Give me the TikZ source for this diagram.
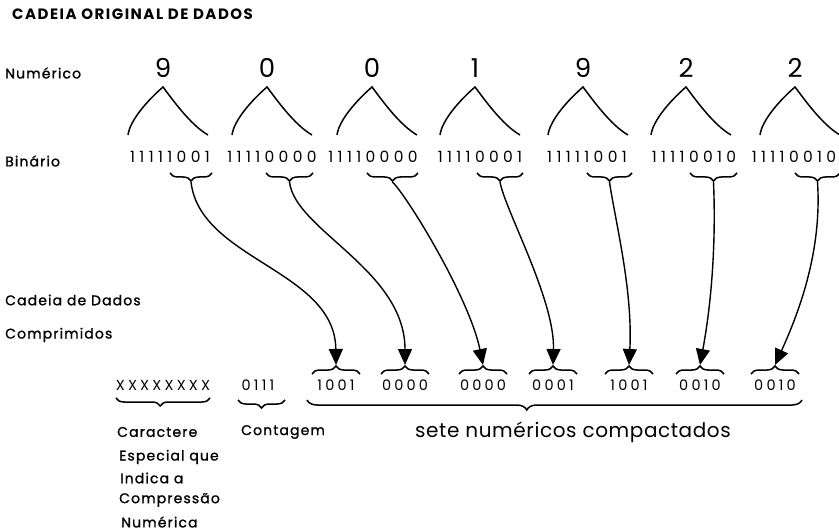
\documentclass[tikz,border=0pt]{standalone}
\usepackage{fontspec}
\setmainfont{Poppins}
\usetikzlibrary{arrows.meta,decorations.pathreplacing}

\begin{document}
\begin{tikzpicture}[x=1pt,y=1pt,
  lbl/.style={anchor=west,inner sep=0pt,font=\fontsize{14}{14}\selectfont\addfontfeature{LetterSpace=8,FakeBold=1.2}},
  ttl/.style={anchor=west,inner sep=0pt,font=\fontsize{15}{15}\selectfont\bfseries\addfontfeature{LetterSpace=10}},
  digit/.style={inner sep=0pt,font=\fontsize{26}{26}\selectfont},
  bits/.style={inner sep=0pt,font=\fontsize{15.5}{16}\selectfont\addfontfeature{LetterSpace=28}},
  code/.style={inner sep=0pt,font=\fontsize{14.5}{15}\selectfont\addfontfeature{LetterSpace=22}},
  big/.style={inner sep=0pt,font=\fontsize{20}{20}\selectfont\addfontfeature{LetterSpace=3}},
  tent/.style={line width=1.5pt},
  brc/.style={line width=1.5pt,decorate,decoration={brace,amplitude=#1}},
  brc/.default=8pt,
  link/.style={line width=1.4pt,-{Triangle[width=14pt,length=16pt]}},
]
\useasboundingbox (0,0) rectangle (839,-532);

% headings and row labels
\node[ttl] (title) at (12,-14) {CADEIA ORIGINAL DE DADOS};
\node[lbl] (lnum) at (5,-73) {Numérico};
\node[lbl] (lbin) at (5,-161) {Binário};
\node[lbl] (lcad) at (5,-300) {Cadeia de Dados};
\node[lbl] (lcomp) at (5,-335) {Comprimidos};

% decimal digits, their tents and the 8-bit codes
\foreach \i/\dx/\bx/\d/\b in {1/163/170/9/11111001, 2/267/272/0/11110000,
    3/372/373/0/11110000, 4/475/480/1/11110001, 5/583/587/9/11111001,
    6/686/694/2/11110010, 7/795/794/2/11110010} {
  \node[digit] (d\i) at (\dx,-68) {\d};
  \draw[tent] (\dx-35,-135) .. controls (\dx-33,-120) and (\dx-15,-100) .. (\dx,-87)
              .. controls (\dx+12,-103) and (\dx+28,-125) .. (\dx+45,-135);
  \node[bits] (b\i) at (\bx,-157) {\b};
}

% braces under the low nibble of each code
\foreach \i/\xa/\xb in {1/170/212, 2/266/313, 3/367/418, 4/477/523,
    5/587/632, 6/690/737, 7/795/840} {
  \draw[brc] (\xb,-173) -- (\xa,-173);
  \coordinate (u\i) at ({(\xa+\xb)/2},-182);
}

% packed nibbles with braces above them
\foreach \i/\x/\c in {1/336/1001, 2/405/0000, 3/483/0000, 4/553/0001,
    5/629/1001, 6/700/0010, 7/775/0010} {
  \node[code] (c\i) at (\x,-385) {\c};
  \draw[brc] (\x-24,-374) -- (\x+24,-374);
  \coordinate (v\i) at (\x,-365);
}

% nibble transfers
\draw[link] (u1) .. controls (200,-260) and (335,-270) .. (v1);
\draw[link] (u2) .. controls (295,-230) and (405,-270) .. (v2);
\draw[link] (u3) .. controls (410,-200) and (470,-300) .. (v3);
\draw[link] (u4) .. controls (505,-210) and (555,-300) .. (v4);
\draw[link] (u5) .. controls (615,-220) and (633,-290) .. (v5);
\draw[link] (u6) .. controls (716,-240) and (712,-300) .. (v6);
\draw[link] (u7) .. controls (822,-250) and (800,-310) .. (v7);

% prefix fields of the compressed string
\node[code] (esc) at (163,-385) {XXXXXXXX};
\node[code] (cnt) at (258,-385) {0111};
\draw[brc,decoration={aspect=0.53}] (210,-398) -- (116,-398);
\draw[brc] (285,-400) -- (238,-400);
\draw[brc=10pt,decoration={aspect=0.556}] (802,-400) -- (307,-400);

% field descriptions
\node[lbl] (n1) at (117,-432) {Caractere};
\node[lbl] (n2) at (119,-457) {Especial que};
\node[lbl] (n3) at (120,-478) {Indica a};
\node[lbl] (n4) at (119,-500) {Compressão};
\node[lbl] (n5) at (121,-522) {Numérica};
\node[lbl] (n6) at (241,-432) {Contagem};
\node[big] (n7) at (573,-432) {sete numéricos compactados};
\end{tikzpicture}
\end{document}
